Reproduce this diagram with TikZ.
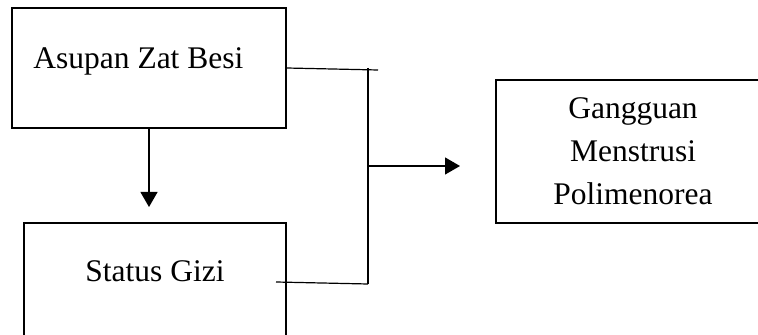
\documentclass[tikz,border=0pt]{standalone}
\usepackage{fontspec}
\setmainfont{Liberation Serif}
\usetikzlibrary{arrows.meta}
\begin{document}
\begin{tikzpicture}[x=0.5pt,y=-0.5pt,
  box/.style={draw,line width=0.6pt,minimum width=#1,inner sep=0pt},
  lbl/.style={font=\fontsize{15.75}{21.5}\selectfont,inner sep=0pt},
  conn/.style={line width=0.6pt},
  arr/.style={conn,-{Triangle[length=7.5pt,width=8.5pt]}}]
\useasboundingbox (0,0) rectangle (758,335);
\clip (0,0) rectangle (758,335);
\node[box=137pt,minimum height=60pt] (A) at (149,68) {};
\node[box=131pt,minimum height=61pt] (B) at (155,284) {};
\node[box=137pt,minimum height=71.5pt] (C) at (633,151.5) {};
\node[lbl,anchor=base west] (tA) at (33,69) {Asupan Zat Besi};
\node[lbl,anchor=base west] (tB) at (85,282) {Status Gizi};
\node[lbl,align=center,anchor=base] (tC) at (633,205) {Gangguan\\Menstrusi\\Polimenorea};
\coordinate (a1) at (378,70);
\coordinate (j1) at (368,68);
\coordinate (j2) at (368,284);
\coordinate (b0) at (276,282);
\coordinate (m) at (368,166);
\coordinate (mt) at (460,166);
\coordinate (dt) at (149,207);
\draw[arr] (A.south) -- (dt);
\draw[conn] (A.east) -- (a1);
\draw[conn] (j1) -- (j2);
\draw[conn] (b0) -- (j2);
\draw[arr] (m) -- (mt);
\end{tikzpicture}
\end{document}
